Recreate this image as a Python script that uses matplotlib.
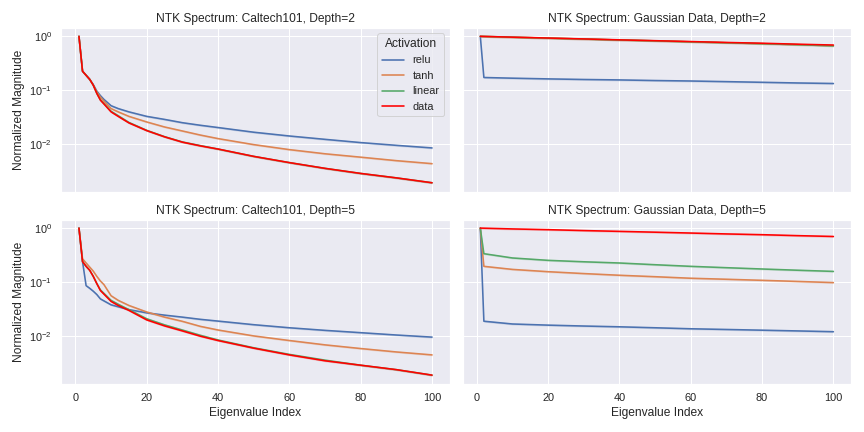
import matplotlib
matplotlib.use("Agg")
import matplotlib.pyplot as plt
import seaborn as sns
import numpy as np

sns.set_theme(style="darkgrid")
plt.rcParams['font.family'] = ['Liberation Sans', 'DejaVu Sans']

activations = ["relu", "tanh", "linear", "data"]
colors = {"relu": "#4c72b0", "tanh": "#dd8452", "linear": "#55a868", "data": "red"}

# Caltech101 indices (eigenvalue index)
idx_cal = [1, 2, 3, 4, 5, 6, 7, 8, 10, 12, 15, 20, 25, 30, 35, 40, 50, 60, 70, 80, 90, 100]
# Gaussian indices
idx_gau = [1, 2, 10, 20, 30, 40, 50, 60, 70, 80, 90, 100]

# Caltech101, Depth=2
cal2_relu   = [1.0, 0.226, 0.19, 0.16, 0.128, 0.097, 0.080, 0.068, 0.052, 0.046, 0.040, 0.033, 0.029, 0.0252, 0.0226, 0.0205, 0.0168, 0.0143, 0.0124, 0.0108, 0.0096, 0.0086]
cal2_tanh   = [1.0, 0.226, 0.19, 0.16, 0.126, 0.094, 0.075, 0.063, 0.046, 0.040, 0.033, 0.026, 0.021, 0.0177, 0.0149, 0.0128, 0.0099, 0.0080, 0.0067, 0.0058, 0.0050, 0.0044]
cal2_linear = [1.0, 0.226, 0.19, 0.16, 0.125, 0.088, 0.067, 0.057, 0.041, 0.034, 0.0255, 0.0182, 0.0139, 0.0111, 0.0095, 0.0082, 0.0060, 0.0046, 0.0036, 0.0029, 0.0024, 0.00195]
cal2_data   = [1.0, 0.226, 0.19, 0.16, 0.125, 0.088, 0.066, 0.056, 0.040, 0.033, 0.025, 0.018, 0.0138, 0.0110, 0.0094, 0.0082, 0.0060, 0.0046, 0.0036, 0.0029, 0.0024, 0.00195]

# Caltech101, Depth=5
cal5_relu   = [1.0, 0.24, 0.086, 0.077, 0.068, 0.059, 0.049, 0.045, 0.038, 0.035, 0.031, 0.027, 0.0245, 0.0225, 0.0205, 0.019, 0.0163, 0.0143, 0.0128, 0.0116, 0.0105, 0.0096]
cal5_tanh   = [1.0, 0.27, 0.226, 0.19, 0.16, 0.128, 0.105, 0.090, 0.056, 0.046, 0.037, 0.028, 0.0225, 0.0188, 0.0152, 0.0130, 0.0101, 0.0083, 0.0069, 0.0059, 0.0051, 0.0045]
cal5_linear = [1.0, 0.24, 0.196, 0.166, 0.128, 0.094, 0.072, 0.062, 0.046, 0.039, 0.031, 0.021, 0.0162, 0.0130, 0.0104, 0.0085, 0.0061, 0.0046, 0.0036, 0.0029, 0.0024, 0.0019]
cal5_data   = [1.0, 0.24, 0.196, 0.166, 0.128, 0.094, 0.070, 0.060, 0.044, 0.037, 0.030, 0.020, 0.0155, 0.0125, 0.0100, 0.0083, 0.0060, 0.0045, 0.0035, 0.0029, 0.0024, 0.0019]

# Gaussian Data, Depth=2
gau2_relu   = [1.0, 0.173, 0.168, 0.163, 0.159, 0.156, 0.152, 0.149, 0.145, 0.141, 0.137, 0.134]
gau2_tanh   = [1.0, 0.995, 0.962, 0.925, 0.89, 0.855, 0.825, 0.79, 0.76, 0.73, 0.70, 0.67]
gau2_linear = [1.0, 0.995, 0.962, 0.925, 0.89, 0.855, 0.825, 0.79, 0.76, 0.73, 0.70, 0.665]
gau2_data   = [1.0, 0.996, 0.965, 0.93, 0.895, 0.86, 0.83, 0.80, 0.77, 0.745, 0.715, 0.69]

# Gaussian Data, Depth=5
gau5_relu   = [1.0, 0.0189, 0.0168, 0.0160, 0.0154, 0.0149, 0.0143, 0.0137, 0.0133, 0.0129, 0.0125, 0.0121]
gau5_tanh   = [1.0, 0.196, 0.172, 0.156, 0.144, 0.134, 0.126, 0.118, 0.113, 0.108, 0.103, 0.098]
gau5_linear = [1.0, 0.336, 0.28, 0.253, 0.238, 0.226, 0.21, 0.196, 0.185, 0.175, 0.166, 0.158]
gau5_data   = [1.0, 0.996, 0.965, 0.935, 0.90, 0.87, 0.84, 0.81, 0.78, 0.755, 0.725, 0.70]

panels = [
    ("NTK Spectrum: Caltech101, Depth=2", idx_cal, [cal2_relu, cal2_tanh, cal2_linear, cal2_data]),
    ("NTK Spectrum: Gaussian Data, Depth=2", idx_gau, [gau2_relu, gau2_tanh, gau2_linear, gau2_data]),
    ("NTK Spectrum: Caltech101, Depth=5", idx_cal, [cal5_relu, cal5_tanh, cal5_linear, cal5_data]),
    ("NTK Spectrum: Gaussian Data, Depth=5", idx_gau, [gau5_relu, gau5_tanh, gau5_linear, gau5_data]),
]

fig, axes = plt.subplots(2, 2, figsize=(12, 6), dpi=72, sharex=True, sharey=True)
for ax, (title, xs, series) in zip(axes.flat, panels):
    for act, ys in zip(activations, series):
        ys = np.asarray(ys)
        ax.fill_between(xs, ys * 0.96, ys * 1.04, color=colors[act], alpha=0.2, linewidth=0)
        ax.plot(xs, ys, color=colors[act], linewidth=1.6, label=act)
    ax.set_yscale("log")
    ax.set_title(title, fontsize=12)

axes[0, 0].set_ylabel("Normalized Magnitude", fontsize=12)
axes[1, 0].set_ylabel("Normalized Magnitude", fontsize=12)
axes[1, 0].set_xlabel("Eigenvalue Index", fontsize=12)
axes[1, 1].set_xlabel("Eigenvalue Index", fontsize=12)
axes[0, 0].legend(title="Activation", loc="upper right", fontsize=11, title_fontsize=12)

fig.tight_layout()
fig.savefig("out.png", dpi=72)
